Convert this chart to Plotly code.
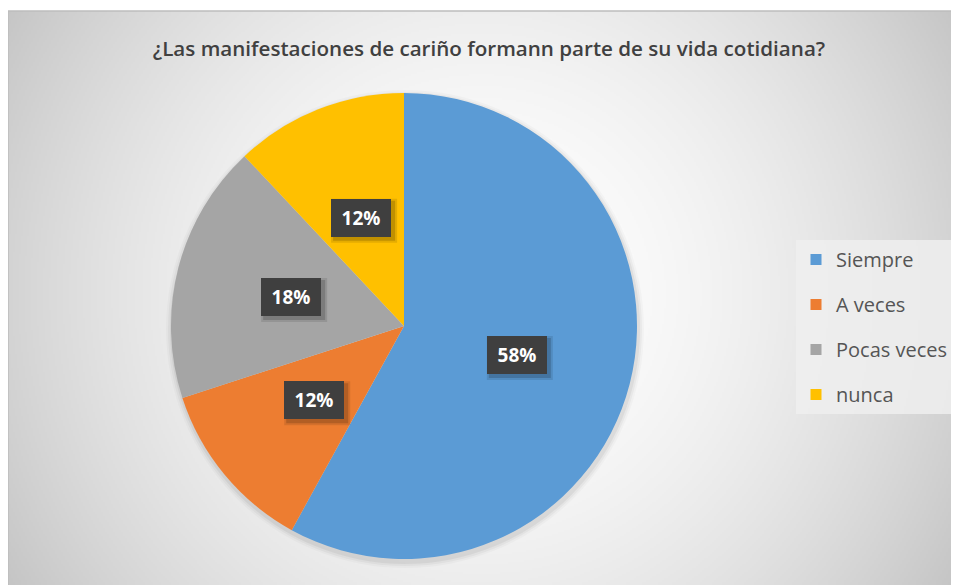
import base64, struct, zlib
import numpy as np
import plotly.graph_objects as go

# ---- data ----
categories = ["Siempre", "A veces", "Pocas veces", "nunca"]
values = [58, 12, 18, 12]
colors = ["#5B9BD5", "#ED7D31", "#A5A5A5", "#FFC000"]
title_text = "¿Las manifestaciones de cariño formann parte de su vida cotidiana?"

# page has an 8px body margin, so the figure is drawn at (8, 8)
W, H = 951, 577

# ---- radial gradient background as PNG ----
def make_png(arr):
    h, w = arr.shape
    raw = b"".join(b"\x00" + arr[i].tobytes() for i in range(h))
    def chunk(t, d):
        c = struct.pack(">I", len(d)) + t + d
        return c + struct.pack(">I", zlib.crc32(t + d) & 0xFFFFFFFF)
    png = b"\x89PNG\r\n\x1a\n"
    png += chunk(b"IHDR", struct.pack(">IIBBBBB", w, h, 8, 0, 0, 0, 0))
    png += chunk(b"IDAT", zlib.compress(raw, 9))
    png += chunk(b"IEND", b"")
    return "data:image/png;base64," + base64.b64encode(png).decode()

bx0, by0 = 0, 3
bw, bh = W - bx0, H - by0
sc = 2
yy, xx = np.mgrid[0:bh // sc, 0:bw // sc].astype(float) * sc
cx, cy = 472 - bx0, 285 - by0
r = np.sqrt((xx - cx) ** 2 + (yy - cy) ** 2) / 555.0
g = np.clip(255 - 58 * r ** 1.8, 190, 255).astype(np.uint8)
bg_src = make_png(g)

# ---- pie geometry (figure pixels, from top-left) ----
pcx, pcy, R = 396, 318, 233
dom_x = [(pcx - R) / W, (pcx + R) / W]
dom_y = [(H - pcy - R) / H, (H - pcy + R) / H]

fig = go.Figure()
fig.add_trace(go.Pie(
    labels=categories, values=values, sort=False, direction="clockwise",
    rotation=0, marker=dict(colors=colors, line=dict(width=0)),
    textinfo="none", hoverinfo="label+percent", showlegend=False,
    domain=dict(x=dom_x, y=dom_y),
))

# legend entries
for c, col in zip(categories, colors):
    fig.add_trace(go.Scatter(
        x=[None], y=[None], mode="markers", name=c, legendgroup=c,
        marker=dict(symbol="square", size=11, color=col),
    ))

shapes = [dict(type="rect", xref="paper", yref="paper", x0=bx0 / W, y0=-0.01, x1=1.01, y1=1 - by0 / H,
               line=dict(color="#bdbdbd", width=1.5), layer="below")]

# soft pie shadow
for k, a in [(6, 0.025), (4, 0.035), (2, 0.05)]:
    shapes.append(dict(type="circle", xref="paper", yref="paper",
                       x0=(pcx - R - k + 1) / W, x1=(pcx + R + k + 1) / W,
                       y0=(H - (pcy + R + k + 3)) / H, y1=(H - (pcy - R - k + 3)) / H,
                       fillcolor=f"rgba(0,0,0,{a})", line=dict(width=0), layer="below"))

# ---- data labels ----
BOXW, BOXH = 60, 38
total = sum(values)
cum = 0
annotations = []
for v in values:
    mid = (cum + v / 2) / total * 2 * np.pi
    cum += v
    lx = pcx + 0.5 * R * np.sin(mid)
    ly = pcy - 0.5 * R * np.cos(mid)
    pct = f"{round(v / total * 100)}%"
    # box shadow
    for k, a in [(4, 0.10), (2, 0.16)]:
        shapes.append(dict(type="rect", xref="paper", yref="paper",
                           x0=(lx - BOXW / 2 + 4 - k) / W, x1=(lx + BOXW / 2 + 2 + k) / W,
                           y0=(H - (ly + BOXH / 2 + 2 + k)) / H, y1=(H - (ly - BOXH / 2 + 4 - k)) / H,
                           fillcolor=f"rgba(0,0,0,{a})", line=dict(width=0), layer="above"))
    annotations.append(dict(
        x=lx / W, y=(H - ly) / H, xref="paper", yref="paper",
        xanchor="center", yanchor="middle",
        text=f"<b>{pct}</b>", showarrow=False, width=BOXW, height=BOXH,
        font=dict(family="Open Sans", size=19, color="white"),
        bgcolor="#3f3f3f", borderpad=0, borderwidth=0, valign="middle",
    ))

fig.update_layout(
    width=W, height=H,
    margin=dict(l=0, r=0, t=0, b=0),
    paper_bgcolor="white", plot_bgcolor="rgba(0,0,0,0)",
    xaxis=dict(visible=False), yaxis=dict(visible=False),
    images=[dict(source=bg_src, xref="paper", yref="paper", x=bx0 / W, y=1 - by0 / H,
                 sizex=bw / W, sizey=bh / H, xanchor="left", yanchor="top",
                 sizing="stretch", layer="below")],
    shapes=shapes,
    title=dict(text=title_text, x=481 / W, y=1 - 41 / H, xanchor="center", yanchor="middle",
               font=dict(family="Open Sans", size=20.6, color="#404040", weight=600)),
    legend=dict(x=788 / W, y=1 - 232 / H, xanchor="left", yanchor="top",
                bgcolor="rgba(238,238,238,0.85)", font=dict(family="Open Sans", size=20, color="#555555"),
                tracegroupgap=16, itemwidth=30, borderwidth=0),
    annotations=annotations,
)

fig.write_html("out.html")
